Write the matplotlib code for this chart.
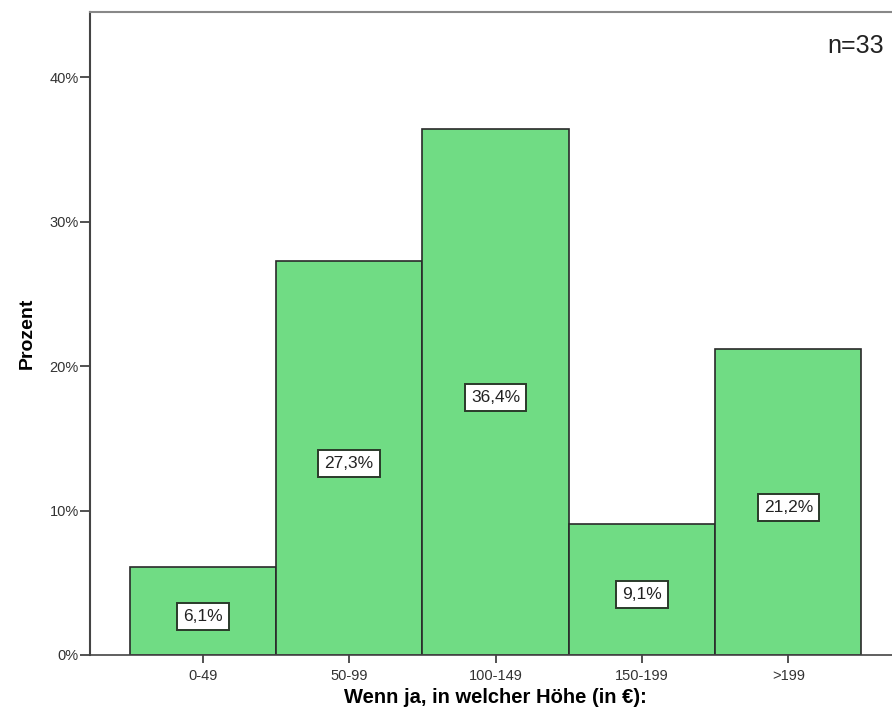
import matplotlib.pyplot as plt
import numpy as np

plt.rcParams['font.family'] = ['Liberation Sans', 'DejaVu Sans']

categories = ['0-49', '50-99', '100-149', '150-199', '>199']
prozent = [6.1, 27.3, 36.4, 9.1, 21.2]
labels = ['6,1%', '27,3%', '36,4%', '9,1%', '21,2%']
n_text = 'n=33'

fig = plt.figure(figsize=(8.92, 7.25), dpi=100)
ax = fig.add_axes([90 / 892, 70 / 725, 811 / 892, 643 / 725])

x = np.arange(len(categories))
ax.bar(x, prozent, width=1.0, color='#70dc84', edgecolor='#2a2a2a', linewidth=1.2)

for xi, v, lab in zip(x, prozent, labels):
    ax.annotate(lab, (xi, v / 2), xytext=(0, -4), textcoords='offset points',
                ha='center', va='center', fontsize=12.5, color='#222222',
                bbox=dict(boxstyle='square,pad=0.35', facecolor='white', edgecolor='#2a3a2a', linewidth=1.4))

ax.set_xlim(-0.77, 4.77)
ax.set_ylim(0, 44.5)
ax.set_yticks([0, 10, 20, 30, 40])
ax.set_yticklabels(['0%', '10%', '20%', '30%', '40%'])
ax.set_xticks(x)
ax.set_xticklabels(categories)
ax.tick_params(axis='y', length=7, width=1.2, color='#333333', labelsize=10.5, labelcolor='#333333', pad=1)
ax.tick_params(axis='x', length=6, width=1.2, color='#333333', labelsize=10.5, labelcolor='#333333', pad=4)

ax.spines['right'].set_visible(False)
ax.spines['left'].set_color('#444444')
ax.spines['left'].set_linewidth(1.5)
ax.spines['bottom'].set_color('#444444')
ax.spines['bottom'].set_linewidth(1.2)
ax.spines['top'].set_color('#888888')
ax.spines['top'].set_linewidth(1.5)

ax.set_ylabel('Prozent', fontsize=14, fontweight='bold', labelpad=10)
ax.set_xlabel('Wenn ja, in welcher Höhe (in €):', fontsize=14.5, fontweight='bold', labelpad=4)

fig.text(884 / 892, 1 - 46 / 725, n_text, ha='right', va='center', fontsize=18, color='#222222')

fig.savefig('out.png', dpi=100)
